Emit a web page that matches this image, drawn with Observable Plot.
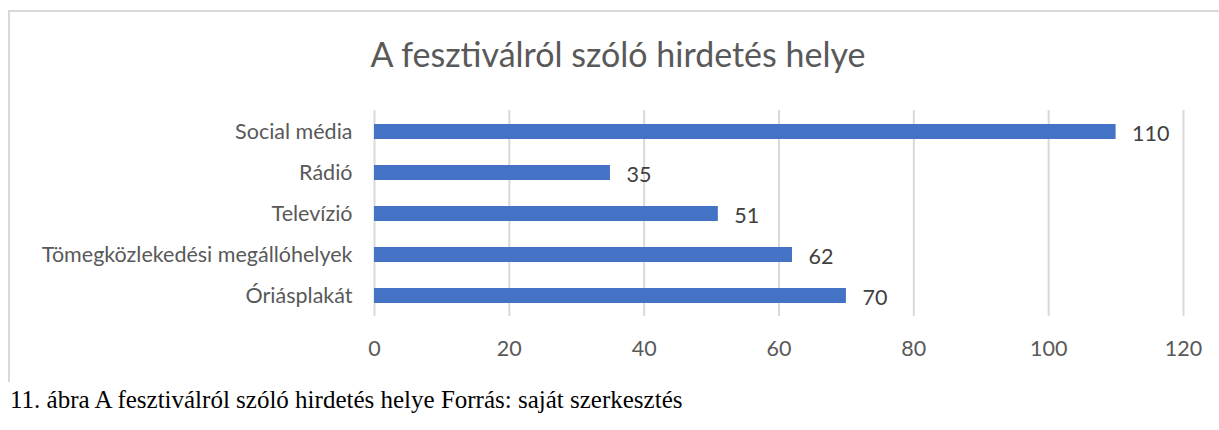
<!DOCTYPE html>
<html>
<head>
<meta charset="utf-8">
<script src="https://cdn.jsdelivr.net/npm/d3@7"></script>
<script src="https://cdn.jsdelivr.net/npm/@observablehq/plot@0.6"></script>
<style>
  html, body { margin: 0; padding: 0; background: #fff; width: 1219px; height: 430px; overflow: hidden; }
  #frame { position: absolute; left: 8px; top: 10px; width: 1230px; height: 372px;
           border-top: 2px solid #d9d9d9; border-left: 2px solid #d9d9d9; box-sizing: border-box; }
  #title { position: absolute; left: 0; top: 33px; width: 1236px; text-align: center;
           font-family: Lato, "Open Sans", sans-serif; font-size: 34px; color: #595959; white-space: nowrap; }
  #chart { position: absolute; left: 0; top: 0; }
  #caption { position: absolute; left: 10px; top: 386px; font-family: "Liberation Serif", "Times New Roman", serif;
             font-size: 25px; color: #000; white-space: nowrap; }
</style>
</head>
<body>
<div id="frame"></div>
<div id="title">A fesztiválról szóló hirdetés helye</div>
<div id="chart"></div>
<div id="caption">11. ábra A fesztiválról szóló hirdetés helye Forrás: saját szerkesztés</div>
<script>
const categories = ["Social média", "Rádió", "Televízió", "Tömegközlekedési megállóhelyek", "Óriásplakát"];
const values = [110, 35, 51, 62, 70];
const xTicks = [0, 20, 40, 60, 80, 100, 120];

const data = categories.map((c, i) => ({category: c, value: values[i]}));
const font = "Lato, 'Open Sans', sans-serif";

const chart = Plot.plot({
  width: 1219,
  height: 370,
  marginLeft: 374,
  marginRight: 36,
  marginTop: 110,
  marginBottom: 54,
  style: {fontFamily: font, fontSize: "21.5px", color: "#595959", background: "transparent"},
  x: {domain: [0, 120], ticks: xTicks, label: null},
  y: {domain: categories, label: null, paddingInner: 0.64, paddingOuter: 0.32},
  marks: [
    Plot.ruleX(xTicks, {stroke: "#d9d9d9", strokeWidth: 2, strokeOpacity: 1}),
    Plot.barX(data, {x: "value", y: "category", fill: "#4472C4"}),
    Plot.text(data, {x: "value", y: "category", text: d => String(d.value), textAnchor: "start", dx: 16, dy: 2, fill: "#404040", fontSize: 21.5}),
    Plot.axisX({ticks: xTicks, tickSize: 0, tickPadding: 24, tickFormat: d => String(d), fill: "#595959", fontSize: 21.5}),
    Plot.axisY({tickSize: 0, tickPadding: 22, fill: "#595959", fontSize: 21.5})
  ]
});
document.getElementById("chart").appendChild(chart);
</script>
</body>
</html>
